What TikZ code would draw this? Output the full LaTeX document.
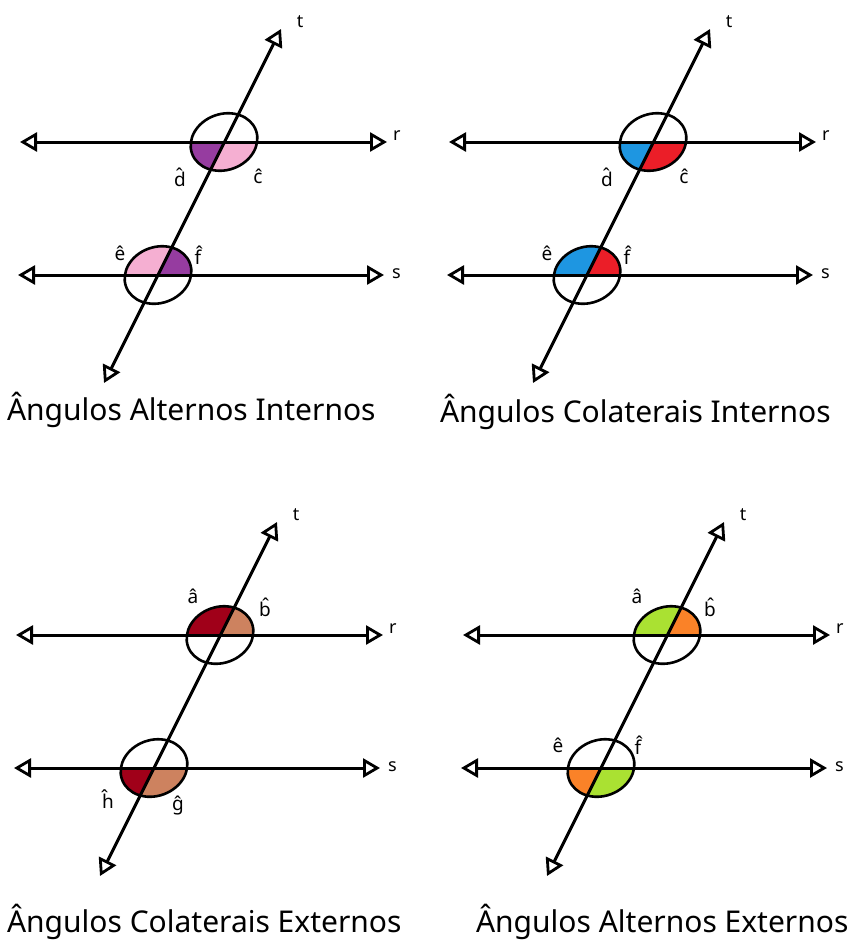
\documentclass[tikz,border=0pt]{standalone}
\usepackage{fontspec}
\setmainfont{Noto Sans}
\usetikzlibrary{arrows.meta}

\definecolor{purpleAng}{RGB}{150,60,160}
\definecolor{pinkAng}{RGB}{245,175,210}
\definecolor{blueAng}{RGB}{30,150,225}
\definecolor{redAng}{RGB}{235,30,40}
\definecolor{wineAng}{RGB}{160,0,25}
\definecolor{tanAng}{RGB}{205,130,95}
\definecolor{greenAng}{RGB}{170,225,50}
\definecolor{orangeAng}{RGB}{250,130,40}

\tikzset{
  parline/.style={line width=3pt,
    {Triangle[open,length=17pt,width=19pt,line width=2.8pt]}-{Triangle[open,length=17pt,width=19pt,line width=2.8pt]}},
  ring/.style={line width=2.6pt},
  anglabel/.style={font=\fontsize{19}{19}\selectfont\bfseries},
  linelabel/.style={font=\fontsize{18}{18}\selectfont},
  paneltitle/.style={anchor=west, font=\fontsize{30}{30}\selectfont}
}

% coloured piece of the circle round a crossing, between two directions
\newcommand{\angsector}[4]{%
  \begin{scope}
    \clip[rotate around={-20:(#1)}] (#1) ellipse (34 and 28);
    \fill[#4] (#1) -- ++(#2:60) arc[start angle=#2, end angle=#3, radius=60] -- cycle;
  \end{scope}}

\begin{document}
\begin{tikzpicture}[x=1pt, y=1pt, yscale=-1, inner sep=0pt, outer sep=0pt]
\useasboundingbox (0,0) rectangle (858,940);
\fill[white] (0,0) rectangle (858,940);

% points of the four panels
\foreach \px/\py/\n in {0/0/1, 429/0/2, -4/493/3, 443/493/4} {
  \begin{scope}[shift={(\px,\py)}]
    \coordinate (rc\n) at (224,142);
    \coordinate (sc\n) at (158,275);
    \coordinate (rL\n) at (20,142);
    \coordinate (rR\n) at (387,142);
    \coordinate (sL\n) at (18,275);
    \coordinate (sR\n) at (384,275);
    \coordinate (tT\n) at (281,29);
    \coordinate (tB\n) at (104,383);
  \end{scope}
}

% alternos internos
\angsector{rc1}{116.4}{180}{purpleAng}
\angsector{rc1}{0}{116.4}{pinkAng}
\angsector{sc1}{180}{296.4}{pinkAng}
\angsector{sc1}{296.4}{360}{purpleAng}
% colaterais internos
\angsector{rc2}{116.4}{180}{blueAng}
\angsector{rc2}{0}{116.4}{redAng}
\angsector{sc2}{180}{296.4}{blueAng}
\angsector{sc2}{296.4}{360}{redAng}
% colaterais externos
\angsector{rc3}{180}{296.4}{wineAng}
\angsector{rc3}{296.4}{360}{tanAng}
\angsector{sc3}{116.4}{180}{wineAng}
\angsector{sc3}{0}{116.4}{tanAng}
% alternos externos
\angsector{rc4}{180}{296.4}{greenAng}
\angsector{rc4}{296.4}{360}{orangeAng}
\angsector{sc4}{116.4}{180}{orangeAng}
\angsector{sc4}{0}{116.4}{greenAng}

% circles and lines
\foreach \n in {1,2,3,4} {
  \draw[ring, rotate around={-20:(rc\n)}] (rc\n) ellipse (34 and 28);
  \draw[ring, rotate around={-20:(sc\n)}] (sc\n) ellipse (34 and 28);
  \draw[parline] (rL\n) -- (rR\n);
  \draw[parline] (sL\n) -- (sR\n);
  \draw[parline] (tB\n) -- (tT\n);
}

% names of the lines
\foreach \px/\py/\n in {0/0/1, 429/0/2, -4/493/3, 443/493/4} {
  \begin{scope}[shift={(\px,\py)}]
    \node[linelabel, anchor=west] (r\n) at (393,136) {r};
    \node[linelabel, anchor=west] (s\n) at (392,274) {s};
    \node[linelabel] (t\n) at (300,22) {t};
  \end{scope}
}

% angle labels
\node[anglabel] (d1) at (180,177) {d̂};
\node[anglabel] (c1) at (258,176) {ĉ};
\node[anglabel] (e1) at (120,253) {ê};
\node[anglabel] (f1) at (198,255) {f̂};

\node[anglabel] (d2) at (607,177) {d̂};
\node[anglabel] (c2) at (684,176) {ĉ};
\node[anglabel] (e2) at (547,253) {ê};
\node[anglabel] (f2) at (627,255) {f̂};

\node[anglabel] (a3) at (193,596) {â};
\node[anglabel] (b3) at (265,607) {b̂};
\node[anglabel] (h3) at (108,799) {ĥ};
\node[anglabel] (g3) at (178,805) {ĝ};

\node[anglabel] (a4) at (637,596) {â};
\node[anglabel] (b4) at (710,607) {b̂};
\node[anglabel] (e4) at (558,745) {ê};
\node[anglabel] (f4) at (638,745) {f̂};

% titles
\node[paneltitle] (title1) at (7,410) {Ângulos Alternos Internos};
\node[paneltitle] (title2) at (440,412) {Ângulos Colaterais Internos};
\node[paneltitle] (title3) at (7,922) {Ângulos Colaterais Externos};
\node[paneltitle] (title4) at (476,922) {Ângulos Alternos Externos};
\end{tikzpicture}
\end{document}
